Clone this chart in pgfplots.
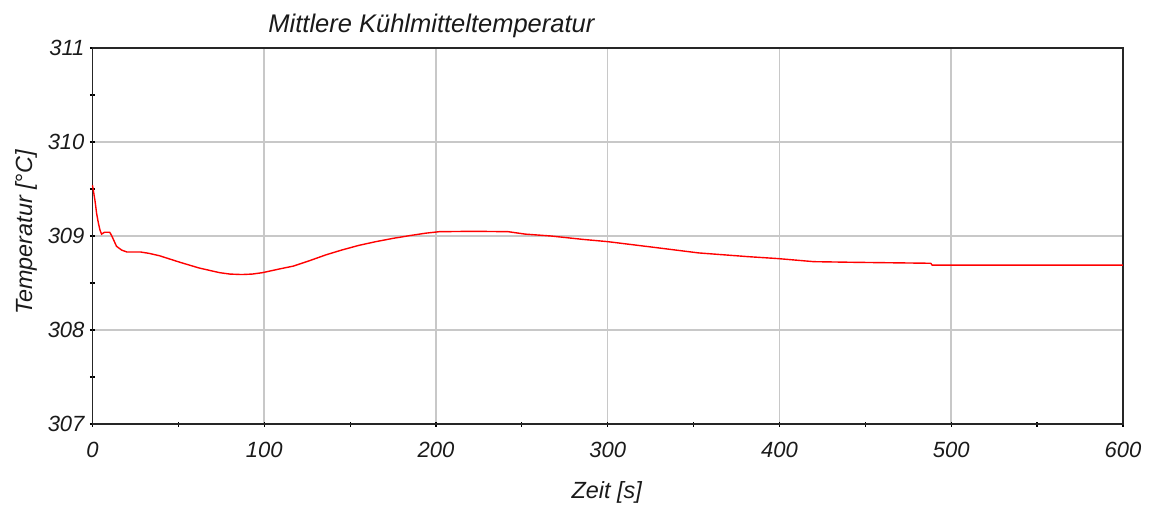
\documentclass[border=0pt]{standalone}
\usepackage{pgfplots}
\pgfplotsset{compat=1.18}
\usepackage{fontspec}
\setmainfont{Liberation Sans}
\definecolor{txt}{HTML}{1A1A1A}
\definecolor{gridc}{HTML}{C8C8C8}
\begin{document}
\begin{tikzpicture}
\path[use as bounding box] (-92.5pt,-83pt) rectangle (1057.5pt,424pt);
\begin{axis}[
  at={(0,0)}, anchor=south west,
  scale only axis, width=1030.5pt, height=376pt,
  xmin=0, xmax=600, ymin=307, ymax=311,
  xtick={0,100,...,600}, ytick={307,308,...,311},
  minor xtick={50,150,...,550}, minor ytick={307.5,308.5,309.5,310.5},
  tick pos=left, tick align=center,
  major tick length=5pt, minor tick length=5pt,
  every tick/.style={black, line width=1.2pt},
  xmajorgrids, ymajorgrids,
  major grid style={gridc, line width=1.5pt},
  axis line style={black!85, line width=1.6pt},
  /pgf/number format/assume math mode=true,
  /pgf/number format/1000 sep={},
  ticklabel style={font=\fontsize{22}{26}\selectfont\itshape, text=txt},
  yticklabel style={anchor=east, xshift=-2pt},
  xticklabel style={anchor=north, yshift=-12pt},
  clip=false,
]
\addplot[red, line width=1.4pt] coordinates {
(0,309.54) (0.8,309.45) (1.5,309.37) (2.4,309.24) (3.4,309.14) (4.4,309.06) (5.3,309.02)
(7,309.04) (10,309.04) (11,309.01) (12.5,308.95) (14,308.89) (17,308.85) (20,308.83)
(28,308.83) (33,308.815) (39,308.79) (45,308.755) (51,308.72) (62,308.66) (74,308.61)
(80,308.595) (87,308.59) (93,308.595) (99,308.61) (109,308.65) (117,308.68) (126,308.735)
(136,308.80) (145,308.85) (155,308.90) (165,308.94) (175,308.975) (185,309.005)
(194,309.03) (202,309.046) (222,309.05) (242,309.046) (252,309.02) (267,309.00)
(285,308.965) (300,308.94) (324,308.886) (353,308.82) (382,308.78) (399,308.76)
(420,308.727) (444,308.72) (488,308.71) (489,308.69) (600,308.69)
};
\node[font=\fontsize{25.5}{30}\selectfont\itshape, text=txt, anchor=base] at (axis description cs:0.3289,1.04) {Mittlere Kühlmitteltemperatur};
\node[font=\fontsize{23.4}{28}\selectfont\itshape, text=txt, rotate=90, anchor=center] at (axis description cs:-0.0645,0.509) {Temperatur [°C]};
\node[font=\fontsize{23.4}{28}\selectfont\itshape, text=txt, anchor=center] at (axis description cs:0.499,-0.181) {Zeit [s]};
\end{axis}
\end{tikzpicture}
\end{document}
